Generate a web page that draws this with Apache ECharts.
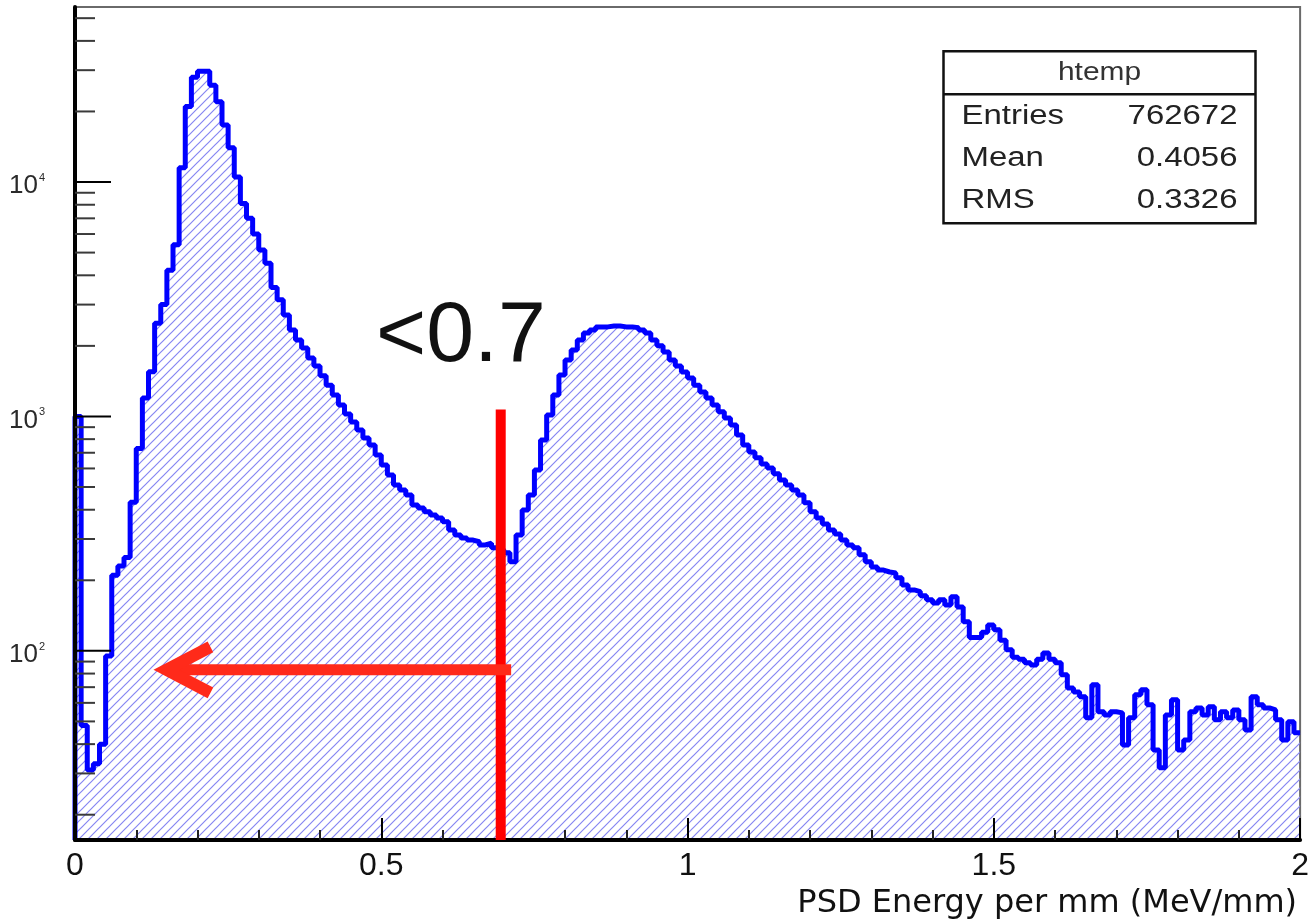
<!DOCTYPE html>
<html>
<head>
<meta charset="utf-8">
<title>htemp - PSD Energy per mm</title>
<script src="https://cdn.jsdelivr.net/npm/echarts@6/dist/echarts.min.js"></script>
<style>
  html, body { margin: 0; padding: 0; background: #fff; }
  #chart { width: 1312px; height: 924px; }
</style>
</head>
<body>
<div id="chart"></div>
<script>
// htemp: 200 bins, 0 .. 2 MeV/mm
const binLow = 0;
const binWidth = 0.01;
const counts = [
  1000, 48, 31, 33, 40, 95, 210, 230, 250, 430,
  730, 1200, 1550, 2500, 3000, 4200, 5400, 11500, 21000, 28000,
  29700, 29700, 25900, 22000, 17500, 14000, 10500, 8100, 7000, 6000,
  5130, 4500, 3550, 3150, 2710, 2340, 2120, 1960, 1775, 1640,
  1490, 1360, 1235, 1120, 1025, 948, 875, 809, 755, 685,
  621, 563, 510, 486, 462, 419, 407, 392, 380, 369,
  355, 328, 312, 303, 297, 292, 283, 288, 275, 270,
  262, 240, 312, 399, 462, 591, 794, 1015, 1235, 1503,
  1742, 1922, 2120, 2270, 2340, 2410, 2410, 2430, 2430, 2410,
  2410, 2390, 2340, 2270, 2120, 2000, 1885, 1742, 1640, 1548,
  1460, 1360, 1271, 1198, 1120, 1046, 985, 920, 834, 755,
  706, 666, 627, 603, 569, 536, 510, 486, 462, 428,
  392, 369, 348, 328, 315, 297, 283, 275, 257, 240,
  228, 221, 217, 215, 205, 191, 182, 179, 172, 165,
  160, 165, 157, 170, 154, 133, 114, 114, 120, 129,
  123, 111, 101, 94, 92, 89, 87, 92, 98, 92,
  89, 79, 69.5, 66.8, 63.7, 51.8, 71.6, 55, 53.3, 55,
  54.4, 39.7, 51.8, 64.9, 68.2, 58.9, 37.8, 31.7, 53.3, 61.8,
  37.8, 41.7, 55, 57.1, 53.3, 57.7, 50.8, 55, 51.8, 56,
  50.8, 46, 63.7, 58.9, 57.1, 56, 50.8, 41.7, 49.8, 44.7
];

const xRange = [0, 2];
const yRange = [15.6, 55800];
const yMajorTicks = [100, 1000, 10000];
const yMinorTicks = [20, 30, 40, 50, 60, 70, 80, 90,
  200, 300, 400, 500, 600, 700, 800, 900,
  2000, 3000, 4000, 5000, 6000, 7000, 8000, 9000,
  20000, 30000, 40000, 50000];
const xTitle = 'PSD Energy per mm (MeV/mm)';

const histName = 'htemp';
const statNames = ['Entries', 'Mean', 'RMS'];
const statValues = ['762672', '0.4056', '0.3326'];

// hand drawn cut marker
const cutLabel = '<0.7';
const cutX = 0.695;
const cutTop = 1070;
const arrowFrom = 0.712;
const arrowTo = 0.146;
const arrowLevel = 83;

const FONT = '"Liberation Sans", Arial, Helvetica, sans-serif';
const WIDE = '"DejaVu Sans", Verdana, sans-serif';

// step outline points: left edge of each bin, plus closing edge
const stepPoints = [[binLow, yRange[0]]];
counts.forEach((c, i) => stepPoints.push([+(binLow + i * binWidth).toFixed(4), c]));
stepPoints.push([xRange[1], counts[counts.length - 1]]);

function hatchPattern() {
  const s = 9;
  const c = document.createElement('canvas');
  c.width = s;
  c.height = s;
  const g = c.getContext('2d');
  g.strokeStyle = '#8686f2';
  g.lineWidth = 1.2;
  g.beginPath();
  g.moveTo(0, s); g.lineTo(s, 0);
  g.moveTo(-1, 1); g.lineTo(1, -1);
  g.moveTo(s - 1, s + 1); g.lineTo(s + 1, s - 1);
  g.stroke();
  return c;
}

const chart = echarts.init(document.getElementById('chart'), null, { renderer: 'canvas' });

const yTicks = yMajorTicks.map((v) => [0, v, 1]).concat(yMinorTicks.map((v) => [0, v, 0]));

const option = {
  backgroundColor: '#fff',
  animation: false,
  grid: {
    left: 75,
    right: 8,
    top: 7,
    bottom: 84,
    show: true,
    borderColor: '#6a6a6a',
    borderWidth: 2,
    containLabel: false,
  },
  xAxis: {
    type: 'value',
    min: xRange[0],
    max: xRange[1],
    interval: 0.5,
    z: 10,
    splitLine: { show: false },
    axisLine: { onZero: false, lineStyle: { color: '#000', width: 4 } },
    axisTick: { inside: true, length: 22, lineStyle: { color: '#000', width: 2 } },
    minorTick: { show: true, splitNumber: 5, length: 10, lineStyle: { color: '#222', width: 2 } },
    axisLabel: {
      margin: 10,
      fontSize: 32,
      fontFamily: FONT,
      color: '#111',
      formatter: (v) => String(v),
    },
    name: xTitle,
    nameLocation: 'end',
    nameGap: -3,
    nameMoveOverlap: false,
    nameTextStyle: {
      fontSize: 32,
      fontFamily: WIDE,
      color: '#111',
      align: 'right',
      verticalAlign: 'top',
      padding: [48, 0, 0, 0],
    },
  },
  yAxis: {
    type: 'log',
    logBase: 10,
    min: yRange[0],
    max: yRange[1],
    z: 10,
    splitLine: { show: false },
    axisLine: { onZero: false, lineStyle: { color: '#000', width: 4 } },
    axisTick: { show: false },
    minorTick: { show: false },
    axisLabel: { show: false },
  },
  series: [
    {
      name: histName,
      type: 'line',
      step: 'end',
      data: stepPoints,
      showSymbol: false,
      symbol: 'none',
      lineStyle: { color: '#0000ff', width: 5 },
      areaStyle: { origin: 'start', color: { image: hatchPattern(), repeat: 'repeat' }, opacity: 1 },
      z: 2,
    },
    {
      // y axis ticks and 10^n labels (log), long ticks at decades
      type: 'custom',
      coordinateSystem: 'cartesian2d',
      data: yTicks,
      silent: true,
      clip: false,
      z: 11,
      renderItem: (params, api) => {
        const v = api.value(1);
        const p = api.coord([api.value(0), v]);
        const major = api.value(2) === 1;
        const tick = {
          type: 'line',
          shape: { x1: p[0], y1: p[1], x2: p[0] + (major ? 36 : 20), y2: p[1] },
          style: { stroke: major ? '#000' : '#3a3a3a', lineWidth: 2 },
        };
        if (!major) return tick;
        const e = Math.round(Math.log10(v));
        return {
          type: 'group',
          children: [
            tick,
            { type: 'text', x: p[0] - 37, y: p[1] + 4, style: { text: '10', fontSize: 26, fontFamily: FONT, fill: '#2a2a2a', align: 'right', verticalAlign: 'middle' } },
            { type: 'text', x: p[0] - 36, y: p[1] - 4, style: { text: String(e), fontSize: 11, fontFamily: FONT, fill: '#2a2a2a', align: 'left', verticalAlign: 'middle' } },
          ],
        };
      },
    },
    {
      // red cut line + arrow
      type: 'custom',
      coordinateSystem: 'cartesian2d',
      data: [[cutX, cutTop, arrowFrom, arrowTo, arrowLevel]],
      silent: true,
      z: 12,
      renderItem: (params, api) => {
        const top = api.coord([api.value(0), api.value(1)]);
        const bot = api.coord([api.value(0), yRange[0]]);
        const a0 = api.coord([api.value(2), api.value(4)]);
        const a1 = api.coord([api.value(3), api.value(4)]);
        const red = '#ff2a1a';
        return {
          type: 'group',
          children: [
            { type: 'line', shape: { x1: top[0], y1: top[1], x2: bot[0], y2: bot[1] }, style: { stroke: '#ff0000', lineWidth: 10 } },
            { type: 'line', shape: { x1: a0[0], y1: a0[1], x2: a1[0] + 4, y2: a1[1] }, style: { stroke: red, lineWidth: 11 } },
            {
              type: 'polyline',
              shape: { points: [[a1[0] + 46, a1[1] - 23], [a1[0] + 2, a1[1]], [a1[0] + 46, a1[1] + 23]] },
              style: { stroke: red, lineWidth: 12, fill: 'none', lineJoin: 'miter' },
            },
          ],
        };
      },
    },
  ],
  graphic: [
    {
      type: 'text',
      left: 376,
      top: 294,
      z: 20,
      style: { text: cutLabel, fontSize: 86, fontFamily: FONT, fill: '#111' },
    },
    {
      type: 'group',
      left: 941,
      top: 50,
      z: 20,
      children: [
        { type: 'rect', shape: { x: 0, y: 0, width: 312, height: 172 }, style: { fill: '#fff', stroke: '#111', lineWidth: 2.5 } },
        { type: 'line', shape: { x1: 0, y1: 43, x2: 312, y2: 43 }, style: { stroke: '#111', lineWidth: 2.5 } },
        {
          type: 'text', x: 156, y: 22, scaleX: 1.15,
          style: { text: histName, fontSize: 26, fontFamily: FONT, fill: '#333', align: 'center', verticalAlign: 'middle' },
        },
      ].concat(statNames.map((n, i) => ({
        type: 'text', x: 18, y: 65 + i * 42, scaleX: 1.22,
        style: { text: n, fontSize: 27, fontFamily: FONT, fill: '#222', align: 'left', verticalAlign: 'middle' },
      }))).concat(statValues.map((v, i) => ({
        type: 'text', x: 294, y: 65 + i * 42, scaleX: 1.22,
        style: { text: v, fontSize: 27, fontFamily: FONT, fill: '#222', align: 'right', verticalAlign: 'middle' },
      }))),
    },
  ],
};

chart.setOption(option);
</script>
</body>
</html>
